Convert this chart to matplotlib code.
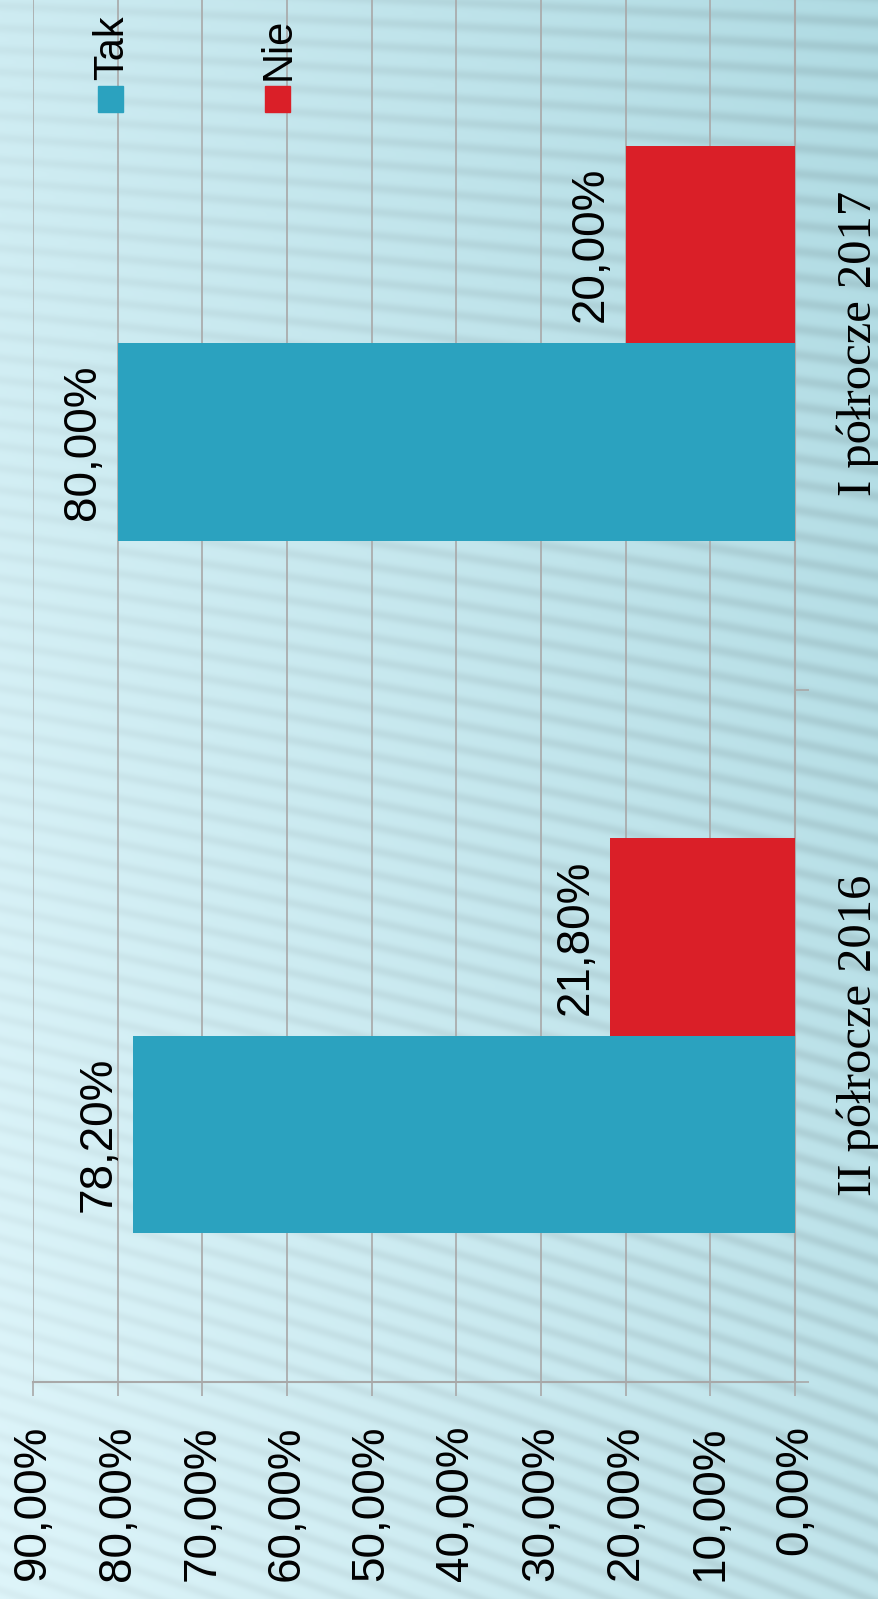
import numpy as np
import matplotlib
matplotlib.use("Agg")
import matplotlib.pyplot as plt
from matplotlib.patches import Rectangle

# survey results per half-year
categories = ["II półrocze 2016", "I półrocze 2017"]
tak = [78.2, 80.0]
nie = [21.8, 20.0]
series_names = ["Tak", "Nie"]
ticks = [0, 10, 20, 30, 40, 50, 60, 70, 80, 90]

BLUE = "#2BA2BF"
RED = "#DA1F28"
GRID = "#A8A8A8"

W, H = 879, 1599
fig = plt.figure(figsize=(W / 100, H / 100), dpi=100)

# soft cyan background with window-blind stripes
yy, xx = np.mgrid[0:H, 0:W].astype(float)
t = np.clip(0.65 * xx / W + 0.35 * (1 - yy / H), 0, 1)
light = np.array([222, 245, 250]) / 255
dark = np.array([176, 219, 227]) / 255
base = light + (dark - light) * t[..., None]
slope = 0.04 + 0.30 * yy / H
stripe = (0.5 + 0.5 * np.sin(2 * np.pi * (yy - slope * xx) / 22.0)) ** 2
amp = 0.085 * (0.35 + 0.65 * xx / W)
img = base * (1 - amp * stripe)[..., None]
img = np.clip(img, 0, 1)

bg = fig.add_axes([0, 0, 1, 1])
bg.imshow(img, aspect="auto", interpolation="bilinear")
bg.axis("off")

# plot area: value axis runs right-to-left, everything turned on its side
left, right = 33 / W, 795 / W
bottom = (H - 1382) / H
ax = fig.add_axes([left, bottom, right - left, 1 + 3 / H - bottom])
ax.set_facecolor("none")

bw = 0.285
centers = np.arange(len(categories)) + 0.5
ax.barh(centers - bw / 2, tak, height=bw, color=BLUE, zorder=3)
ax.barh(centers + bw / 2, nie, height=bw, color=RED, zorder=3)

for c, v in zip(centers, tak):
    ax.annotate(f"{v:.2f}%".replace(".", ","), (v, c - bw / 2), xytext=(-9, 0),
                textcoords="offset points", rotation=90, ha="right", va="center",
                fontsize=33, family="Liberation Sans", zorder=4)
for c, v in zip(centers, nie):
    ax.annotate(f"{v:.2f}%".replace(".", ","), (v, c + bw / 2), xytext=(-9, 0),
                textcoords="offset points", rotation=90, ha="right", va="center",
                fontsize=33, family="Liberation Sans", zorder=4)

ax.set_xlim(90, 0)
ax.set_ylim(0, len(categories))
ax.set_xticks(ticks)
ax.set_xticklabels([f"{v},00%" for v in ticks], rotation=90, va="top",
                   fontsize=33, family="Liberation Sans")
ax.tick_params(axis="x", length=10, width=1.2, color=GRID, pad=21)
ax.grid(axis="x", color=GRID, linewidth=1.2, zorder=0)

ax.yaxis.tick_right()
ax.set_yticks(centers)
ax.set_yticklabels(categories, rotation=90, va="center", ha="left",
                   fontsize=35, family="Liberation Serif")
ax.set_yticks(np.arange(len(categories) + 1), minor=True)
ax.tick_params(axis="y", which="major", length=0, pad=30)
ax.tick_params(axis="y", which="minor", length=10, width=1.2, color=GRID)

for side in ["left", "top"]:
    ax.spines[side].set_visible(False)
for side in ["right", "bottom"]:
    ax.spines[side].set_color(GRID)
    ax.spines[side].set_linewidth(1.5)

# legend
for name, col, x0 in zip(series_names, [BLUE, RED], [98, 265]):
    fig.patches.append(Rectangle((x0 / W, 1 - 112 / H), 25 / W, 26 / H,
                                 transform=fig.transFigure, color=col))
    fig.text((x0 + 26 + 8) / W, 1 - 80 / H, name, rotation=90, ha="right",
             va="bottom", fontsize=30, family="Liberation Sans")

fig.savefig("out.png", dpi=100)
